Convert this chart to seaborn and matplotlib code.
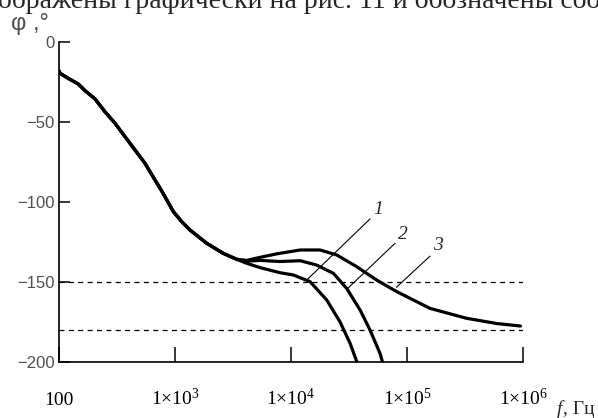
import numpy as np
import pandas as pd
import matplotlib
matplotlib.use("Agg")
import matplotlib.pyplot as plt
import seaborn as sns

# ---- data ----
common_f = [100, 102, 120, 147, 168, 204, 249, 304, 371, 452, 551, 673, 767, 967, 1150, 1346, 1875, 2607, 3400]
common_phi = [-18, -19.6, -22.7, -26.3, -30.5, -35.5, -43.6, -50.8, -59.2, -67.5, -75.8, -86.3, -93,
              -106, -112.5, -117.5, -125.8, -132.1, -135.8]

curve1_f = [4150, 5400, 8040, 10470, 14600, 20300, 26400, 32300, 37000]
curve1_phi = [-138.3, -141, -144.2, -145.6, -149.8, -161.2, -174.8, -188.3, -200]

curve2_f = [4150, 5410, 8040, 12000, 16600, 23200, 30200, 39400, 48000, 58500, 61500]
curve2_phi = [-137, -136.5, -137.2, -136.7, -139.4, -144.6, -154, -167.5, -180, -194.6, -200]

curve3_f = [4150, 5410, 7530, 12000, 17800, 24800, 36800, 54800, 81500, 158000, 327000, 600000, 950000]
curve3_phi = [-136.5, -134.6, -132.4, -130, -130, -133.1, -140.4, -148.8, -156, -166.5, -172.7, -176, -177.5]

ref_levels = [-150, -180]
x_ticks = [1e2, 1e3, 1e4, 1e5, 1e6]
x_tick_labels = ["100", "1×10$^{3}$", "1×10$^{4}$", "1×10$^{5}$", "1×10$^{6}$"]
y_ticks = [-200, -150, -100, -50, 0]
y_tick_labels = ["\u2212200", "\u2212150", "\u2212100", "\u221250", "0"]
curve_names = ["1", "2", "3"]

# ---- build long-form table ----
frames = []
for name, fx, py in zip(curve_names, [curve1_f, curve2_f, curve3_f],
                        [curve1_phi, curve2_phi, curve3_phi]):
    frames.append(pd.DataFrame({"f": common_f + fx, "phi": common_phi + py, "curve": name}))
df = pd.concat(frames, ignore_index=True)

sns.set_style("white")
plt.rcParams["font.family"] = ["Liberation Serif", "DejaVu Serif"]
plt.rcParams["mathtext.default"] = "regular"

fig = plt.figure(figsize=(5.98, 4.18), dpi=100)
ax = fig.add_axes([59 / 598, 1 - 362 / 418, (523 - 59) / 598, (362 - 42) / 418])

sns.lineplot(data=df, x="f", y="phi", units="curve", estimator=None, sort=False,
             color="black", linewidth=2.3, ax=ax, legend=False)
for ln in ax.lines:
    ln.set_solid_joinstyle("round")

for lvl in ref_levels:
    ax.axhline(lvl, color="black", linewidth=0.9, linestyle=(0, (4, 3.5)))

ax.set_xscale("log")
ax.set_xlim(1e2, 1e6)
ax.set_ylim(-200, 0)
ax.set_xlabel("")
ax.set_ylabel("")
ax.set_xticks(x_ticks)
ax.set_xticklabels(x_tick_labels)
ax.xaxis.set_minor_locator(matplotlib.ticker.NullLocator())
ax.set_yticks(y_ticks)
ax.set_yticklabels(y_tick_labels)

ax.tick_params(axis="x", direction="in", length=11, width=1.1, color="black",
               labelsize=14, pad=31, labelcolor="black", bottom=True)
ax.tick_params(axis="y", direction="in", length=8, width=1.1, color="black",
               labelsize=12, pad=3, labelcolor="#505050", left=True)
for lab in ax.get_xticklabels():
    lab.set_verticalalignment("baseline")
for lab in ax.get_yticklabels():
    lab.set_family(["Liberation Sans", "DejaVu Sans"])

for s in ["top", "right"]:
    ax.spines[s].set_visible(False)
for s in ["left", "bottom"]:
    ax.spines[s].set_color("black")
    ax.spines[s].set_linewidth(1.2)
ax.grid(False)

# leader lines with curve numbers
leaders = [((13650, -148.8), (48000, -110.6), (56600, -105)),
           ((30200, -154.6), (78900, -125.8), (93000, -120.6)),
           ((81000, -153.3), (158000, -133.8), (186000, -126.9))]
for name, (p0, p1, pl) in zip(curve_names, leaders):
    ax.plot([p0[0], p1[0]], [p0[1], p1[1]], color="black", linewidth=0.8)
    ax.text(pl[0], pl[1], name, fontsize=14, style="italic", ha="center", va="center")

# axis captions
fig.text(11 / 598, 1 - 30 / 418, "φ ,°", fontsize=17, color="#505050",
         family=["Liberation Sans", "DejaVu Sans"], va="baseline")
fig.text(557 / 598, 1 - 414 / 418, "f", fontsize=14, style="italic", va="baseline")
fig.text(563 / 598, 1 - 414 / 418, ", Гц", fontsize=14, va="baseline")

# cropped line of text above the chart (cut by the top edge, as in the source)
fig.text(-2 / 598, 1 - 8 / 418, "ображены графически на рис. 11 и обозначены соо",
         fontsize=20, va="baseline", ha="left")

fig.savefig("out.png", dpi=100)
